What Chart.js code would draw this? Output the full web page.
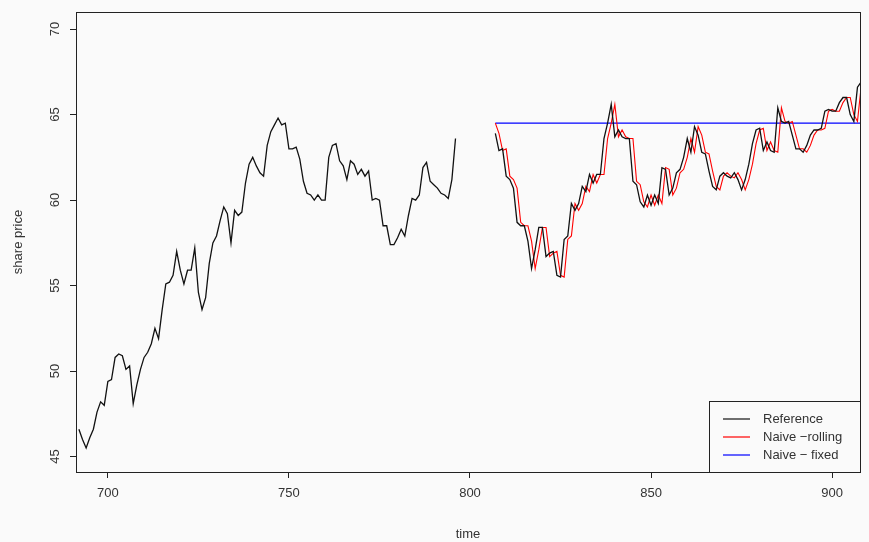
<!DOCTYPE html>
<html lang="en">
<head>
    <meta charset="UTF-8">
    <title>Share price forecasts</title>
    <script src="https://cdn.jsdelivr.net/npm/chart.js"></script>
    <style>
        html, body { margin: 0; padding: 0; background: #fafafa; }
        #wrap { width: 869px; height: 542px; }
    </style>
</head>
<body>
    <div id="wrap"><canvas id="priceChart" width="869" height="542"></canvas></div>

    <script>
        // training part of the series (time 692..796)
        const trainStart = 692;
        const trainPrice = [
            46.6, 46.0, 45.5, 46.1, 46.6, 47.6, 48.2, 48.0, 49.4, 49.5,
            50.8, 51.0, 50.9, 50.1, 50.3, 48.1, 49.2, 50.1, 50.8, 51.1,
            51.6, 52.5, 51.9, 53.6, 55.1, 55.2, 55.6, 57.0, 55.9, 55.1,
            55.9, 55.9, 57.2, 54.6, 53.6, 54.3, 56.3, 57.5, 57.9, 58.8,
            59.6, 59.2, 57.5, 59.4, 59.1, 59.3, 61.0, 62.1, 62.5, 62.0,
            61.6, 61.4, 63.2, 64.0, 64.4, 64.8, 64.4, 64.5, 63.0, 63.0,
            63.1, 62.4, 61.1, 60.4, 60.3, 60.0, 60.3, 60.0, 60.0, 62.5,
            63.2, 63.3, 62.3, 62.0, 61.2, 62.3, 62.1, 61.5, 61.8, 61.4,
            61.7, 60.0, 60.1, 60.0, 58.5, 58.5, 57.4, 57.4, 57.8, 58.3,
            57.9, 59.1, 60.1, 60.0, 60.3, 61.9, 62.2, 61.1, 60.9, 60.7,
            60.4, 60.3, 60.1, 61.2, 63.6
        ];

        // test part (time 807..908)
        const testStart = 807;
        const testPrice = [
            63.9, 62.9, 63.0, 61.4, 61.2, 60.7, 58.7, 58.5, 58.5, 57.6,
            56.0, 57.1, 58.4, 58.4, 56.7, 56.9, 57.0, 55.6, 55.5, 57.7,
            57.9, 59.8, 59.4, 59.8, 60.8, 60.5, 61.5, 61.0, 61.5, 61.5,
            63.6, 64.5, 65.6, 63.7, 64.1, 63.7, 63.6, 63.6, 61.1, 60.9,
            59.9, 59.6, 60.3, 59.7, 60.3, 59.8, 61.9, 61.8, 60.3, 60.7,
            61.6, 61.8, 62.5, 63.6, 62.8, 64.3, 63.8, 62.8, 62.7, 61.7,
            60.8, 60.6, 61.4, 61.6, 61.4, 61.3, 61.6, 61.2, 60.6, 61.2,
            62.1, 63.3, 64.1, 64.2, 62.9, 63.4, 62.9, 62.8, 65.4,
            64.6, 64.5, 64.6, 63.8, 63.0, 63.0, 62.8, 63.2, 63.8, 64.1,
            64.1, 64.2, 65.2, 65.3, 65.2, 65.2, 65.7, 66.0, 66.0, 65.0,
            64.6, 66.6, 66.9
        ];

        // naive forecasts
        const lastTrainValue = 64.5;
        const rollingForecast = [lastTrainValue].concat(testPrice.slice(0, -1));
        const fixedForecast = testPrice.map(() => lastTrainValue);

        const yTicks = [45, 50, 55, 60, 65, 70];
        const xTicks = [700, 750, 800, 850, 900];

        const toPoints = (start, values) => values.map((v, i) => ({ x: start + i, y: v }));
        const referencePoints = toPoints(trainStart, trainPrice)
            .concat([{ x: 801, y: null }])
            .concat(toPoints(testStart, testPrice));

        const font = 'Liberation Sans, Arial, sans-serif';

        // light grey background + full box around the plot
        const framePlugin = {
            id: 'frame',
            beforeDraw(chart) {
                const c = chart.ctx;
                c.save();
                c.fillStyle = '#fafafa';
                c.fillRect(0, 0, chart.width, chart.height);
                c.restore();
            },
            afterDraw(chart) {
                const c = chart.ctx;
                const a = chart.chartArea;
                c.save();
                c.strokeStyle = '#222';
                c.lineWidth = 1;
                c.strokeRect(a.left + 0.5, a.top + 0.5, a.right - a.left, a.bottom - a.top);

                // y tick labels, rotated like R
                const ys = chart.scales.y;
                c.fillStyle = '#333';
                c.font = '13px ' + font;
                c.textAlign = 'center';
                c.textBaseline = 'middle';
                yTicks.forEach(v => {
                    const py = ys.getPixelForValue(v);
                    c.save();
                    c.translate(55, py);
                    c.rotate(-Math.PI / 2);
                    c.fillText(String(v), 0, 0);
                    c.restore();
                });
                c.save();
                c.translate(18, 242);
                c.rotate(-Math.PI / 2);
                c.fillText('share price', 0, 0);
                c.restore();

                // legend box bottom right
                const bx = 709, by = 401, bw = a.right - bx, bh = a.bottom - by;
                c.fillStyle = '#fafafa';
                c.fillRect(bx, by, bw, bh);
                c.strokeStyle = '#222';
                c.strokeRect(bx + 0.5, by + 0.5, bw, bh);
                c.textAlign = 'left';
                chart.data.datasets.forEach((ds, i) => {
                    const ry = 419 + i * 18;
                    c.strokeStyle = ds.borderColor;
                    c.lineWidth = 1.2;
                    c.beginPath();
                    c.moveTo(723, ry);
                    c.lineTo(750, ry);
                    c.stroke();
                    c.fillStyle = '#333';
                    c.fillText(ds.label, 763, ry);
                });
                c.restore();
            }
        };

        new Chart(document.getElementById('priceChart').getContext('2d'), {
            type: 'line',
            data: {
                datasets: [
                    {
                        label: 'Reference',
                        data: referencePoints,
                        borderColor: '#111111',
                        borderWidth: 1.3,
                        pointRadius: 0,
                        spanGaps: false,
                        tension: 0
                    },
                    {
                        label: 'Naive \u2212rolling',
                        data: toPoints(testStart, rollingForecast),
                        borderColor: '#ff0000',
                        borderWidth: 1.1,
                        pointRadius: 0,
                        tension: 0
                    },
                    {
                        label: 'Naive \u2212 fixed',
                        data: toPoints(testStart, fixedForecast),
                        borderColor: '#0000ff',
                        borderWidth: 1.1,
                        pointRadius: 0,
                        tension: 0
                    }
                ]
            },
            options: {
                responsive: false,
                animation: false,
                layout: { padding: { top: 12, right: 9, left: 0, bottom: 0 } },
                plugins: {
                    legend: { display: false },
                    tooltip: { enabled: false }
                },
                scales: {
                    x: {
                        type: 'linear',
                        min: 691.2,
                        max: 907.7,
                        afterFit: s => { s.height = 70; },
                        afterBuildTicks: s => { s.ticks = xTicks.map(v => ({ value: v })); },
                        grid: { drawOnChartArea: false, drawTicks: true, tickLength: 6, color: '#222' },
                        border: { display: false },
                        ticks: {
                            color: '#333',
                            font: { family: font, size: 13 },
                            padding: 8,
                            maxRotation: 0
                        },
                        title: {
                            display: true,
                            text: 'time',
                            color: '#333',
                            font: { family: font, size: 13 },
                            padding: { top: 0, bottom: 0 }
                        }
                    },
                    y: {
                        type: 'linear',
                        min: 44.1,
                        max: 71.0,
                        afterFit: s => { s.width = 76; },
                        afterBuildTicks: s => { s.ticks = yTicks.map(v => ({ value: v })); },
                        grid: { drawOnChartArea: false, drawTicks: true, tickLength: 6, color: '#222' },
                        border: { display: false },
                        ticks: { display: false }
                    }
                }
            },
            plugins: [framePlugin]
        });
    </script>
</body>
</html>
